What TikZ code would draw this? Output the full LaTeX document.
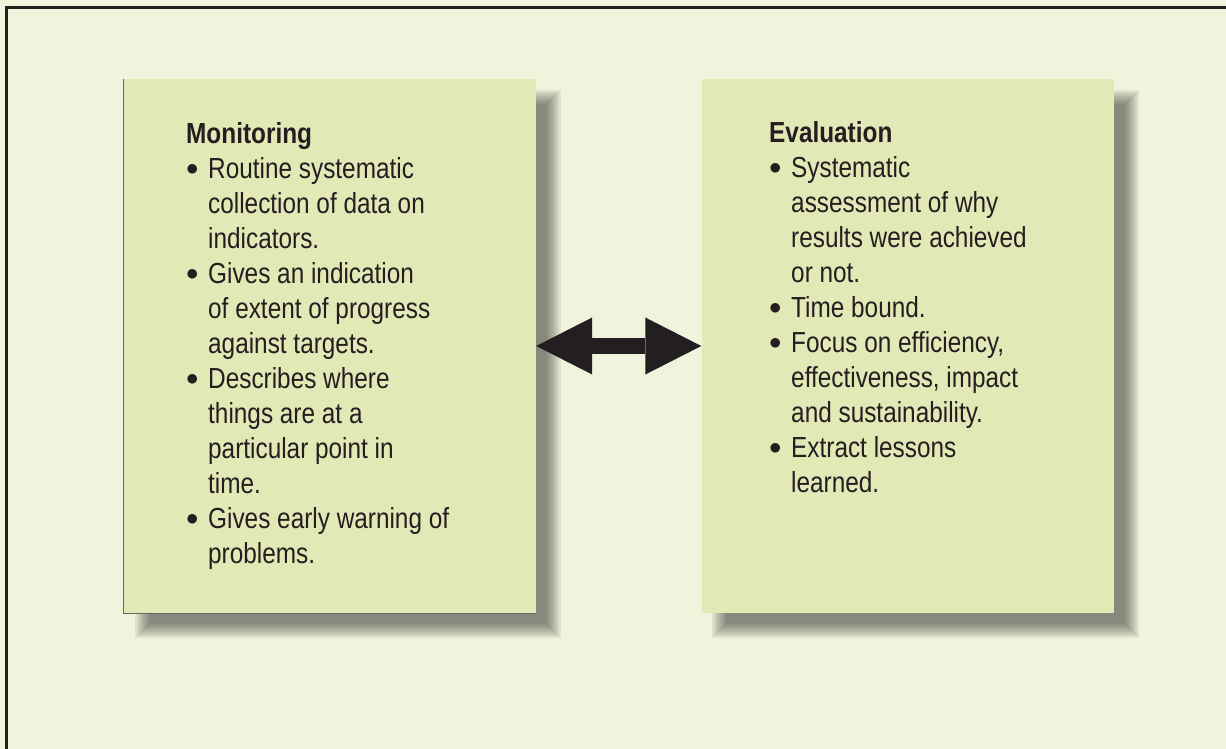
\documentclass[tikz,border=0pt]{standalone}
\usepackage{fontspec}
\setmainfont[FakeStretch=0.84]{Liberation Sans}
\usetikzlibrary{arrows.meta,backgrounds}

\definecolor{pagebg}{RGB}{240,244,221}
\definecolor{boxfill}{RGB}{226,232,182}
\definecolor{inkdark}{RGB}{35,31,32}

% bullet and hanging indent for the lists
\newcommand{\itm}{\makebox[22pt][l]{\raisebox{3pt}{$\bullet$}}}
\newcommand{\cont}{\hspace*{22pt}}

\begin{document}
\begin{tikzpicture}[x=1pt, y=-1pt,
    panel/.style={fill=boxfill, inner sep=0pt, minimum width=412pt, minimum height=534pt},
    panel text/.style={align=left, inner sep=0pt, text=inkdark, font=\fontsize{29}{35}\selectfont}]

    \useasboundingbox (0,0) rectangle (1226,749);

    % The two panels
    \node[panel] (mon) at (330,346) {};
    \node[panel] (eva) at (907.5,346) {};
    \draw[gray!80!black, line width=1pt] (mon.north west) -- (mon.south west) -- (mon.south east);

    % Page background and soft drop shadows (stacked see-through rectangles)
    \begin{scope}[on background layer]
        \fill[pagebg] (0,0) rectangle (1226,749);
        \foreach \p in {mon,eva}
            \foreach \e in {-7,-5,...,7}
                \fill[black, opacity=0.066]
                    ([shift={(18-\e,18-\e)}]\p.north west) rectangle ([shift={(18+\e,18+\e)}]\p.south east);
    \end{scope}

    % Outer frame
    \draw[inkdark, line width=3pt] (6.5,749) -- (6.5,7.5) -- (1226,7.5);

    % Double arrow between the panels
    \draw[inkdark, line width=16pt,
        {Triangle[length=56pt, width=57pt, line width=0pt]}-{Triangle[length=56pt, width=57pt, line width=0pt]}]
        (mon.east) -- (eva.west);

    % Panel contents (placed by the baseline of their last line)
    \node[panel text, anchor=base west] (montext) at (186,563) {%
        \textbf{Monitoring}\\
        \itm Routine systematic\\
        \cont collection of data on\\
        \cont indicators.\\
        \itm Gives an indication\\
        \cont of extent of progress\\
        \cont against targets.\\
        \itm Describes where\\
        \cont things are at a\\
        \cont particular point in\\
        \cont time.\\
        \itm Gives early warning of\\
        \cont problems.};

    \node[panel text, anchor=base west] (evatext) at (769,492) {%
        \textbf{Evaluation}\\
        \itm Systematic\\
        \cont assessment of why\\
        \cont results were achieved\\
        \cont or not.\\
        \itm Time bound.\\
        \itm Focus on efficiency,\\
        \cont effectiveness, impact\\
        \cont and sustainability.\\
        \itm Extract lessons\\
        \cont learned.};
\end{tikzpicture}
\end{document}
